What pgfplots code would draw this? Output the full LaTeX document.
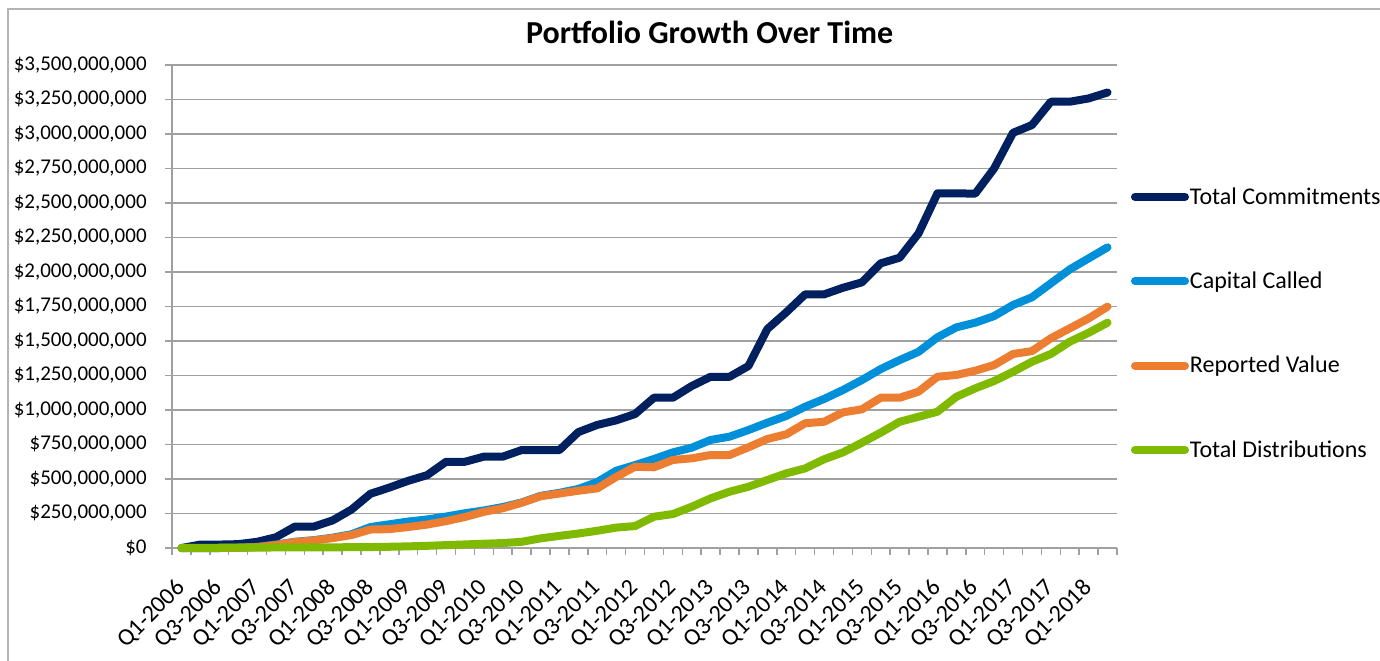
\documentclass[border=0pt]{standalone}
\usepackage{fontspec}
\setmainfont{Carlito}
\usepackage{pgfplots}
\pgfplotsset{compat=1.18}
\definecolor{cNavy}{RGB}{0,32,96}
\definecolor{cBlue}{RGB}{0,144,218}
\definecolor{cOrange}{RGB}{237,125,49}
\definecolor{cGreen}{RGB}{127,186,0}
\definecolor{cGrid}{RGB}{160,160,160}

\pgfplotstableread{
idx commit called value dist
0 0 0 0 0
1 25 0 0 1
2 25 0 0 2
3 28 2 2 3
4 45 8 6 3
5 78 25 22 4
6 155 45 43 4
7 155 57 55 5
8 200 75 72 5
9 279 100 94 6
10 393 152 134 7
11 438 172 137 9
12 487 192 152 12
13 528 207 170 16
14 625 228 195 21
15 625 252 225 26
16 662 272 262 31
17 662 297 288 36
18 710 330 328 45
19 710 378 375 70
20 710 400 395 88
21 840 428 415 105
22 892 478 432 125
23 925 560 515 148
24 971 601 589 159
25 1089 645 585 227
26 1089 693 638 246
27 1174 727 650 299
28 1241 783 674 360
29 1241 807 674 408
30 1319 855 730 444
31 1587 908 790 493
32 1708 957 824 541
33 1838 1024 904 577
34 1838 1080 915 643
35 1886 1145 983 693
36 1925 1217 1005 763
37 2063 1297 1089 836
38 2104 1362 1089 915
39 2280 1422 1133 951
40 2570 1527 1241 988
41 2570 1599 1254 1096
42 2568 1633 1285 1157
43 2751 1681 1326 1210
44 3009 1761 1406 1277
45 3065 1817 1427 1350
46 3234 1918 1520 1406
47 3234 2019 1592 1495
48 3258 2099 1664 1560
49 3301 2179 1749 1633
}\datatable

\begin{document}
\begin{tikzpicture}
\useasboundingbox (0,0) rectangle (690pt,-330pt);
\draw[cGrid!80, line width=0.75pt] (4pt,-335pt) -- (4pt,-4.5pt) -- (695pt,-4.5pt);
\begin{axis}[
  at={(86pt,-274pt)}, anchor=south west,
  scale only axis, width=472.5pt, height=241.5pt,
  xmin=-0.5, xmax=49.5, ymin=0, ymax=3500,
  axis lines*=left,
  axis line style={cGrid, line width=0.75pt},
  clip=false,
  tick align=outside,
  major tick length=3.5pt,
  tick style={cGrid, line width=0.75pt},
  xtick={-0.5,0.5,...,49.6},
  xticklabels={},
  extra x ticks={0,2,...,48},
  extra x tick labels={Q1-2006,Q3-2006,Q1-2007,Q3-2007,Q1-2008,Q3-2008,Q1-2009,Q3-2009,Q1-2010,Q3-2010,Q1-2011,Q3-2011,Q1-2012,Q3-2012,Q1-2013,Q3-2013,Q1-2014,Q3-2014,Q1-2015,Q3-2015,Q1-2016,Q3-2016,Q1-2017,Q3-2017,Q1-2018},
  extra x tick style={tick style={draw=none}},
  xticklabel style={font=\fontsize{12}{14}\selectfont, yshift=-14.5pt, rotate=45, anchor=east, inner sep=0pt},
  ytick={0,250,...,3500},
  yticklabels={{\$0},{\$250,000,000},{\$500,000,000},{\$750,000,000},{\$1,000,000,000},{\$1,250,000,000},{\$1,500,000,000},{\$1,750,000,000},{\$2,000,000,000},{\$2,250,000,000},{\$2,500,000,000},{\$2,750,000,000},{\$3,000,000,000},{\$3,250,000,000},{\$3,500,000,000}},
  yticklabel style={font=\fontsize{10.5}{12}\selectfont, anchor=east, inner sep=0pt, xshift=-9pt},
  ymajorgrids,
  grid style={cGrid, line width=0.75pt},
  title={Portfolio Growth Over Time},
  title style={font=\bfseries\fontsize{16}{19}\selectfont, at={(0.569,1)}, anchor=base, yshift=5pt, inner sep=0pt},
  legend style={at={(1.0148,0.7453)}, anchor=north west, draw=none, fill=none, inner sep=0pt, outer sep=0pt, row sep=31.7pt, column sep=0.5pt, font=\fontsize{12}{14}\selectfont, nodes={inner sep=0pt, text height=8pt, text depth=2.5pt}},
  legend cell align=left,
  legend image code/.code={\draw[#1,line cap=round] (0pt,0.9pt) -- (25pt,0.9pt);},
  every axis plot/.append style={line width=4pt, line join=round, line cap=round},
]
\addplot[cNavy] table[x=idx,y=commit] {\datatable};
\addplot[cBlue] table[x=idx,y=called] {\datatable};
\addplot[cOrange] table[x=idx,y=value] {\datatable};
\addplot[cGreen] table[x=idx,y=dist] {\datatable};
\legend{Total Commitments,Capital Called,Reported Value,Total Distributions}
\end{axis}
\end{tikzpicture}
\end{document}
